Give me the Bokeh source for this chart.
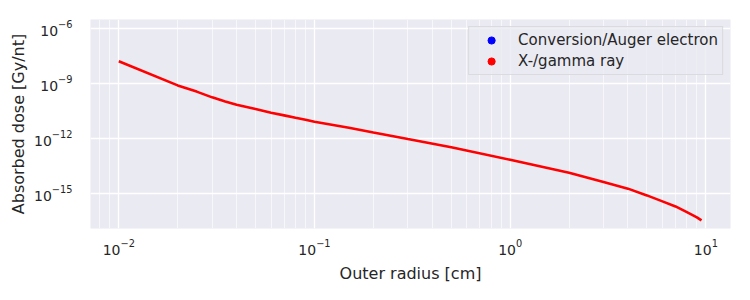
from bokeh.plotting import figure
from bokeh.models import (FixedTicker, LogTickFormatter, Legend, LegendItem,
                          ColumnDataSource, Range1d)
from bokeh.embed import file_html
from bokeh.resources import INLINE

# Data
radius_cm = [0.01, 0.02, 0.025, 0.03, 0.035, 0.04, 0.05, 0.06, 0.07, 0.08, 0.09, 0.1,
             0.15, 0.2, 0.3, 0.5, 1.0, 2.0, 3.0, 4.0, 5.0, 6.0, 7.0, 8.0, 9.0, 9.5]
dose_gamma = [1.58e-8, 7.6e-10, 3.5e-10, 1.70e-10, 1.02e-10, 6.8e-11, 3.9e-11,
              2.45e-11, 1.78e-11, 1.32e-11, 1.02e-11, 7.9e-12, 3.8e-12, 2.09e-12,
              9.1e-13, 3.3e-13, 6.8e-14, 1.35e-14, 4.2e-15, 1.82e-15, 7.8e-16,
              3.7e-16, 1.95e-16, 9.5e-17, 5.0e-17, 3.4e-17]
# no visible electron data in the reference
radius_electron = [float("nan")]
dose_electron = [float("nan")]

series_labels = ["Conversion/Auger electron", "X-/gamma ray"]
x_major_ticks = [1e-2, 1e-1, 1e0, 1e1]
x_minor_ticks = [0.008, 0.009,
                 0.02, 0.03, 0.04, 0.05, 0.06, 0.07, 0.08, 0.09,
                 0.2, 0.3, 0.4, 0.5, 0.6, 0.7, 0.8, 0.9,
                 2, 3, 4, 5, 6, 7, 8, 9]
y_major_ticks = [1e-15, 1e-12, 1e-9, 1e-6]

FONT = "DejaVu Sans"
BG = "#EAEAF2"
TXT = "#262626"

p = figure(width=750, height=300, x_axis_type="log", y_axis_type="log",
           output_backend="svg", toolbar_location=None,
           x_range=Range1d(10**-2.1445, 10**1.126),
           y_range=Range1d(10**-16.91, 10**-5.53),
           min_border_left=90, min_border_right=20,
           min_border_top=19, min_border_bottom=72)
p.background_fill_color = BG
p.border_fill_color = "white"
p.outline_line_color = None

p.xaxis.ticker = FixedTicker(ticks=x_major_ticks, minor_ticks=x_minor_ticks)
p.yaxis.ticker = FixedTicker(ticks=y_major_ticks, minor_ticks=[])
p.xaxis.formatter = LogTickFormatter()
p.yaxis.formatter = LogTickFormatter()

for ax in (p.xaxis, p.yaxis):
    ax.axis_line_color = None
    ax.major_tick_line_color = None
    ax.minor_tick_line_color = None
    ax.major_label_text_font = FONT
    ax.major_label_text_font_size = "14px"
    ax.major_label_text_color = TXT
    ax.axis_label_text_font = FONT
    ax.axis_label_text_font_size = "16px"
    ax.axis_label_text_font_style = "normal"
    ax.axis_label_text_color = TXT
p.xaxis.major_label_standoff = 4
p.yaxis.major_label_standoff = 12
p.xaxis.axis_label_standoff = 6
p.yaxis.axis_label_standoff = 3
p.xaxis.axis_label = "Outer radius [cm]"
p.yaxis.axis_label = "Absorbed dose [Gy/nt]"

p.xgrid.grid_line_color = "white"
p.xgrid.grid_line_width = 1.3
p.xgrid.minor_grid_line_color = "white"
p.xgrid.minor_grid_line_width = 0.8
p.xgrid.minor_grid_line_alpha = 0.8
p.ygrid.grid_line_color = "white"
p.ygrid.grid_line_width = 1.3

p.line(radius_cm, dose_gamma, line_color="red", line_width=2.6)

src_e = ColumnDataSource(data=dict(x=radius_electron, y=dose_electron))
src_g = ColumnDataSource(data=dict(x=[float("nan")], y=[float("nan")]))
r_e = p.scatter("x", "y", source=src_e, marker="circle", size=8,
                fill_color="blue", line_color="blue")
r_g = p.scatter("x", "y", source=src_g, marker="circle", size=8,
                fill_color="red", line_color="red")

legend = Legend(items=[LegendItem(label=series_labels[0], renderers=[r_e]),
                       LegendItem(label=series_labels[1], renderers=[r_g])],
                location="top_right", margin=7, padding=4, spacing=3,
                glyph_width=36, glyph_height=18, label_standoff=9,
                label_text_font=FONT, label_text_font_size="15px",
                label_text_color=TXT, background_fill_color=BG,
                background_fill_alpha=0.8, border_line_color="#CCCCCC",
                border_line_width=1)
p.add_layout(legend)

open("out.html", "w").write(file_html(p, INLINE))
